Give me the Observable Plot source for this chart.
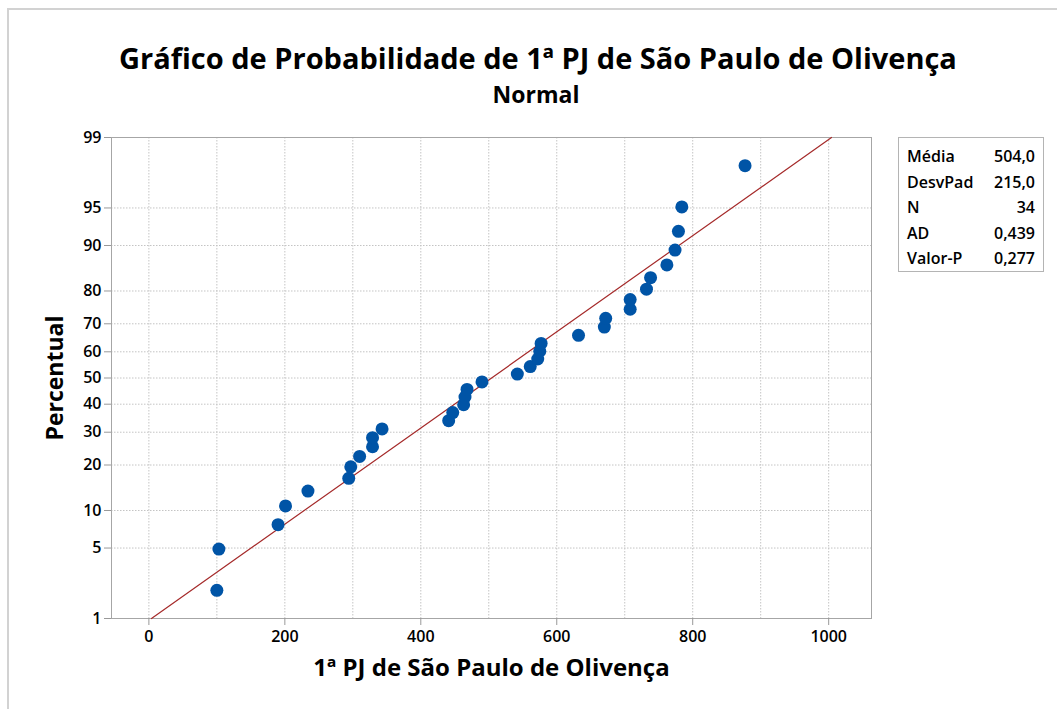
<!DOCTYPE html>
<html>
<head>
<meta charset="utf-8">
<script src="https://cdn.jsdelivr.net/npm/d3@7"></script>
<script src="https://cdn.jsdelivr.net/npm/@observablehq/plot@0.6"></script>
<style>
  html, body { margin: 0; padding: 0; background: #fff; }
  #wrap { position: relative; width: 1057px; height: 709px; overflow: hidden; font-family: "Open Sans", "Noto Sans", sans-serif; color: #000; }
  #edge { position: absolute; left: 7px; top: 8px; right: -5px; bottom: -5px; border-top: 2px solid #d2d2d2; border-left: 2px solid #d2d2d2; }
  #title { position: absolute; left: 19px; width: 1038px; top: 38px; text-align: center; font-size: 29px; font-weight: 700; line-height: 40px; white-space: nowrap; }
  #subtitle { position: absolute; left: 15px; width: 1042px; top: 79px; text-align: center; font-size: 23px; font-weight: 700; line-height: 30px; }
  #chart { position: absolute; left: 0; top: 120px; }
  #stats { position: absolute; left: 898px; top: 137px; width: 146px; height: 135px; border: 1px solid #b4b4b4; box-sizing: border-box; padding: 6px 8px 0 8px; font-size: 16px; font-weight: 600; }
  #stats .row { display: flex; justify-content: space-between; height: 25.5px; line-height: 25.5px; }
</style>
</head>
<body>
<div id="wrap">
  <div id="edge"></div>
  <div id="title">Gráfico de Probabilidade de 1ª PJ de São Paulo de Olivença</div>
  <div id="subtitle">Normal</div>
  <div id="chart"></div>
  <div id="stats"></div>
</div>
<script>
// ---- data ----
const values = [100, 103, 190, 201, 234, 294, 297, 310, 329, 329, 343, 441, 447, 463, 465, 468, 490,
                542, 561, 572, 575, 577, 632, 670, 672, 708, 708, 732, 738, 762, 774, 779, 784, 877];
const percents = [2.0, 4.9, 7.8, 10.8, 13.7, 16.6, 19.5, 22.4, 25.3, 28.2, 31.1, 34.0, 36.9, 39.8, 42.7, 45.6, 48.5,
                  51.5, 54.4, 57.3, 60.2, 63.1, 66.0, 68.9, 71.8, 74.7, 77.6, 80.5, 83.4, 86.3, 89.2, 92.2, 95.1, 98.0];
const yTickLabels = [1, 5, 10, 20, 30, 40, 50, 60, 70, 80, 90, 95, 99];
const xTickLabels = [0, 200, 400, 600, 800, 1000];
const xGrid = [0, 100, 200, 300, 400, 500, 600, 700, 800, 900, 1000];
const statLabels = ["Média", "DesvPad", "N", "AD", "Valor-P"];
const statValues = ["504,0", "215,0", "34", "0,439", "0,277"];
const fitMean = 504.0;
const fitSD = 215.0;

// inverse normal CDF (Acklam)
function probit(p) {
  const a = [-3.969683028665376e+01, 2.209460984245205e+02, -2.759285104469687e+02, 1.383577518672690e+02, -3.066479806614716e+01, 2.506628277459239e+00];
  const b = [-5.447609879822406e+01, 1.615858368580409e+02, -1.556989798598866e+02, 6.680131188771972e+01, -1.328068155288572e+01];
  const c = [-7.784894002430293e-03, -3.223964580411365e-01, -2.400758277161838e+00, -2.549732539343734e+00, 4.374664141464968e+00, 2.938163982698783e+00];
  const d = [7.784695709041462e-03, 3.224671290700398e-01, 2.445134137142996e+00, 3.754408661907416e+00];
  const plow = 0.02425, phigh = 1 - plow;
  let q, r;
  if (p < plow) {
    q = Math.sqrt(-2 * Math.log(p));
    return (((((c[0]*q+c[1])*q+c[2])*q+c[3])*q+c[4])*q+c[5]) / ((((d[0]*q+d[1])*q+d[2])*q+d[3])*q+1);
  }
  if (p <= phigh) {
    q = p - 0.5; r = q * q;
    return (((((a[0]*r+a[1])*r+a[2])*r+a[3])*r+a[4])*r+a[5])*q / (((((b[0]*r+b[1])*r+b[2])*r+b[3])*r+b[4])*r+1);
  }
  q = Math.sqrt(-2 * Math.log(1 - p));
  return -(((((c[0]*q+c[1])*q+c[2])*q+c[3])*q+c[4])*q+c[5]) / ((((d[0]*q+d[1])*q+d[2])*q+d[3])*q+1);
}

const points = values.map((v, i) => ({x: v, z: probit(percents[i] / 100)}));
const zTicks = yTickLabels.map(p => probit(p / 100));
const zLabel = new Map(zTicks.map((z, i) => [z, String(yTickLabels[i])]));
const zLo = probit(0.01), zHi = probit(0.99);
const fit = [{x: fitMean + fitSD * zLo, z: zLo}, {x: fitMean + fitSD * zHi, z: zHi}];

const chart = Plot.plot({
  width: 1057,
  height: 589,
  marginLeft: 111,
  marginRight: 186,
  marginTop: 17,
  marginBottom: 91,
  style: {fontFamily: "'Open Sans', 'Noto Sans', sans-serif", background: "transparent", overflow: "visible", color: "#000"},
  x: {domain: [-55, 1063]},
  y: {domain: [zLo, zHi]},
  marks: [
    Plot.gridX(xGrid, {stroke: "#c4c4c4", strokeOpacity: 1, strokeDasharray: "1.5,1.5"}),
    Plot.gridY(zTicks, {stroke: "#c4c4c4", strokeOpacity: 1, strokeDasharray: "1.5,1.5"}),
    Plot.frame({stroke: "#a6a6a6"}),
    Plot.axisX(xTickLabels, {tickSize: 7, tickPadding: 5, fontSize: 16, fontWeight: 600, stroke: "#999", fill: "#000", label: null,
      tickFormat: v => String(v)}),
    Plot.axisY(zTicks, {tickSize: 7, tickPadding: 3, fontSize: 16, fontWeight: 600, stroke: "#999", fill: "#000", label: null,
      tickFormat: z => zLabel.get(z)}),
    Plot.line(fit, {x: "x", y: "z", stroke: "#a52a2a", strokeWidth: 1.2}),
    Plot.dot(points, {x: "x", y: "z", r: 6.5, fill: "#0054a6", stroke: "none"}),
    Plot.text(["1ª PJ de São Paulo de Olivença"], {frameAnchor: "bottom", dy: 57, fontSize: 24, fontWeight: 700, fill: "#000"}),
    Plot.text(["Percentual"], {frameAnchor: "left", textAnchor: "middle", dx: -56, rotate: -90, fontSize: 23, fontWeight: 700, fill: "#000"})
  ]
});
document.getElementById("chart").appendChild(chart);

const stats = document.getElementById("stats");
statLabels.forEach((l, i) => {
  const row = document.createElement("div");
  row.className = "row";
  const a = document.createElement("span"); a.textContent = l;
  const b = document.createElement("span"); b.textContent = statValues[i];
  row.appendChild(a); row.appendChild(b);
  stats.appendChild(row);
});
</script>
</body>
</html>
